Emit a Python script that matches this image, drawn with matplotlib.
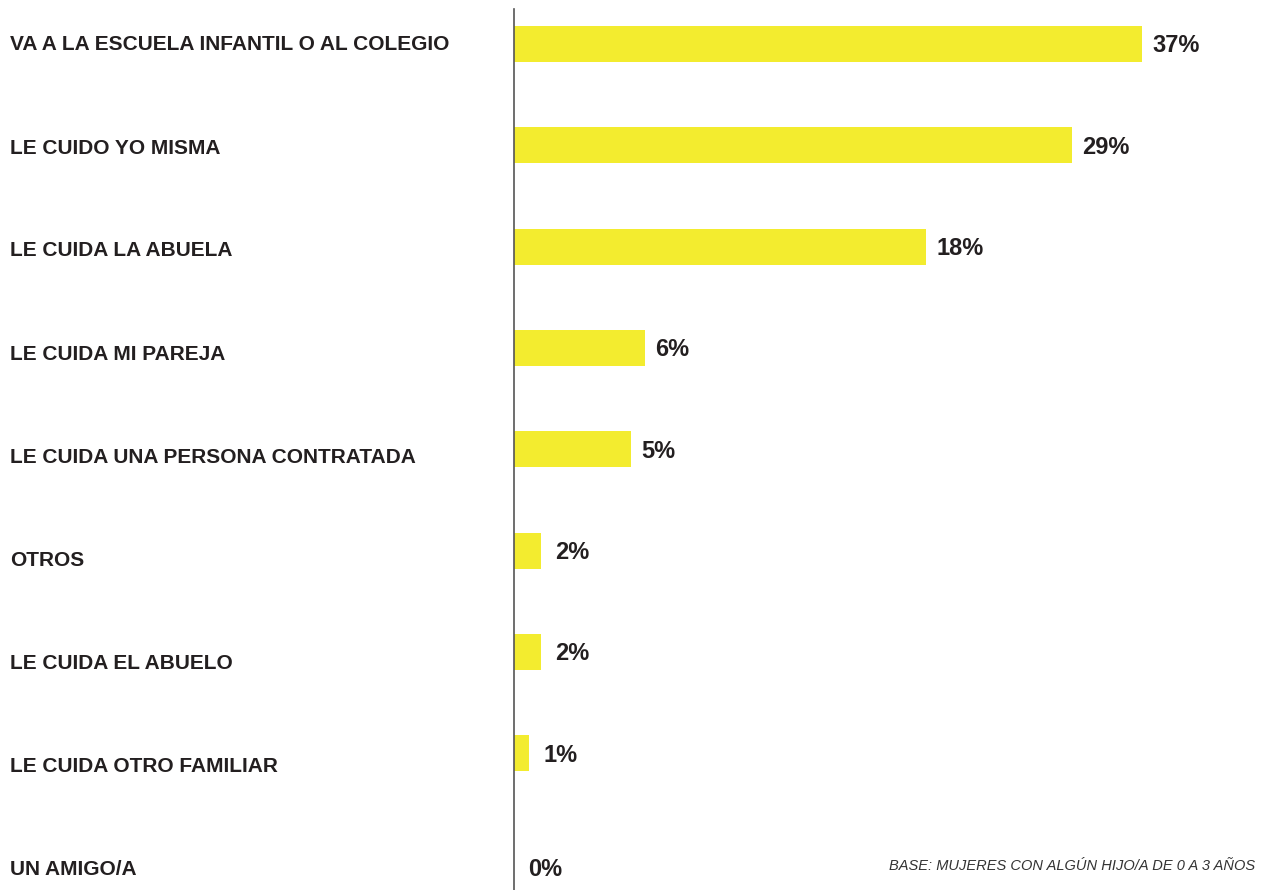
import matplotlib
matplotlib.use("Agg")
import matplotlib.pyplot as plt
from matplotlib.transforms import blended_transform_factory

categories = [
    "VA A LA ESCUELA INFANTIL O AL COLEGIO",
    "LE CUIDO YO MISMA",
    "LE CUIDA LA ABUELA",
    "LE CUIDA MI PAREJA",
    "LE CUIDA UNA PERSONA CONTRATADA",
    "OTROS",
    "LE CUIDA EL ABUELO",
    "LE CUIDA OTRO FAMILIAR",
    "UN AMIGO/A",
]
# bar lengths as drawn in the picture (percentage-scale units)
bar_lengths = [37, 32.9, 24.3, 7.7, 6.9, 1.6, 1.6, 0.9, 0]
# printed value labels
value_labels = [37, 29, 18, 6, 5, 2, 2, 1, 0]
footnote = "BASE: MUJERES CON ALGÚN HIJO/A DE 0 A 3 AÑOS"

BAR = "#F3EC2F"
TXT = "#231F20"

plt.rcParams['font.family'] = ['Liberation Sans', 'DejaVu Sans']

W, H = 1263, 890
fig = plt.figure(figsize=(W / 100, H / 100), dpi=100)
ax_left = 514 / W
ax_top_px = 9
ax = fig.add_axes([ax_left, 0, 1 - ax_left, (H - ax_top_px) / H])

px_per_unit = 16.97
ax.set_xlim(0, (W - 514) / px_per_unit)
spacing = 103.0
first = 45.0
ax.set_ylim((H - first) / spacing, (ax_top_px - first) / spacing)

ypos = list(range(len(categories)))
# bars sit on a slightly tighter rhythm than the category labels
bar_scale = 101.3 / spacing
bar_shift = -1.0 / spacing
bar_y = [i * bar_scale + bar_shift for i in ypos]

ax.barh(bar_y[:len(bar_lengths)], bar_lengths, height=36 / spacing,
        color=BAR, linewidth=0)

for i, (by, L, v) in enumerate(zip(bar_y, bar_lengths, value_labels)):
    gap = 0.6 if L > 3 else 0.85
    ty = by + 2 / spacing if L > 0 else ypos[i]
    ax.text(L + gap, ty, f"{v}%", ha="left", va="center", fontsize=17,
            fontweight="bold", color=TXT)

tr = blended_transform_factory(fig.transFigure, ax.transData)
for y, c in zip(ypos, categories):
    ax.text(10 / W, y, c, transform=tr, ha="left", va="center", fontsize=15,
            fontweight="bold", color=TXT)

fig.text(1255 / W, 1 - 866 / H, footnote, ha="right", va="center",
         fontsize=10.5, style="italic", color="#333333")

for s in ["top", "right", "bottom"]:
    ax.spines[s].set_visible(False)
ax.spines["left"].set_color("#555555")
ax.spines["left"].set_linewidth(1.2)
ax.set_xticks([])
ax.set_yticks([])
ax.patch.set_alpha(0)

fig.savefig("out.png", dpi=100, facecolor="white")
